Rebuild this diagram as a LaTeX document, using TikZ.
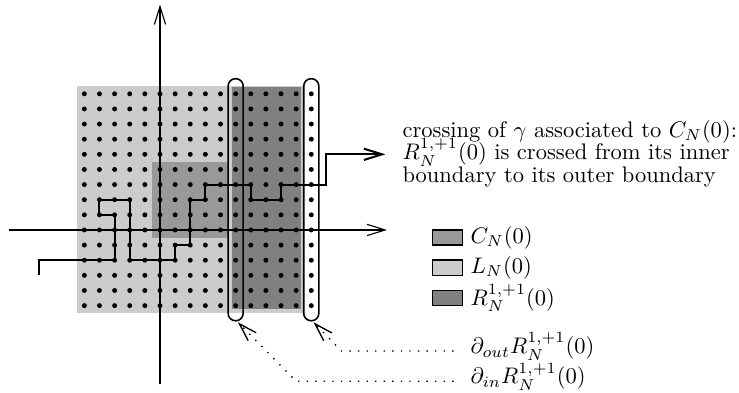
\documentclass[tikz,border=0pt]{standalone}
\usetikzlibrary{arrows.meta}
\definecolor{ringL}{gray}{0.8}
\definecolor{ringC}{gray}{0.6}
\definecolor{ringR}{gray}{0.5}
\begin{document}
\begin{tikzpicture}[x=0.236cm,y=0.236cm,
  >={Straight Barb[length=8pt,width=5pt]},
  site/.style={fill=black},
  walk/.style={line width=0.9pt,->},
  bdry/.style={line width=0.7pt,rounded corners=3.3pt},
  key/.style={draw,line width=0.7pt},
  keytext/.style={anchor=west,inner sep=0pt},
  hint/.style={line width=0.6pt,dash pattern=on 0.6pt off 3.2pt,->}]
\useasboundingbox (-10.575,-10.71) rectangle (38.27,15.2);

% BOXES
\fill[ringL] (-5.5,-5.5) rectangle (9.45,9.5);
\fill[ringC] (-0.5,-0.5) rectangle (4.5,4.5);
\fill[ringR] (4.75,-5.2) rectangle (9.35,9.45);

% SITES
\foreach \x in {-5,...,10}
  \foreach \y in {-5,...,9}
    \fill[site] (\x,\y) circle (1.1pt);

% AXES
\draw[line width=0.5pt,->] (-10,0) -- (15,0);
\draw[line width=0.5pt,->] (0,-10.2) -- (0,14.9);

% CROSSING
\draw[walk] (-8,-3) -- (-8,-2) -- (-3,-2) -- (-3,1) -- (-4,1) -- (-4,2)
  -- (-2,2) -- (-2,-2) -- (1,-2) -- (1,-1) -- (2,-1) -- (2,2) -- (3,2)
  -- (3,3) -- (6,3) -- (6,2) -- (8,2) -- (8,3) -- (11,3) -- (11,5)
  -- (14.9,5);

% BOUNDARIES
\draw[bdry] (4.5,-6) rectangle (5.5,10);
\draw[bdry] (9.5,-6) rectangle (10.5,10);
\coordinate (intip) at (5.15,-6.1);
\coordinate (outtip) at (10.15,-6.1);

% NOTES
\node[keytext,align=left] (txt) at (16,5.06)
  {crossing of $\gamma$ associated to $C_N(0)$:\\[-2pt]
   $R_N^{1,+1}(0)$ is crossed from its inner\\[-2pt]
   boundary to its outer boundary};

% LEGEND
\draw[key,fill=ringC] (18,-1) rectangle (20,0);
\draw[key,fill=ringL] (18,-3) rectangle (20,-2);
\draw[key,fill=ringR] (18,-5) rectangle (20,-4);
\node[keytext] (keyC) at (20.5,-0.5) {$C_N(0)$};
\node[keytext] (keyL) at (20.5,-2.5) {$L_N(0)$};
\node[keytext] (keyR) at (20.5,-4.5) {$R_N^{1,+1}(0)$};

\node[keytext] (dout) at (20.5,-7.7) {$\partial_{out}R_N^{1,+1}(0)$};
\node[keytext] (din) at (20.5,-9.7) {$\partial_{in}R_N^{1,+1}(0)$};
\coordinate (doutend) at (19.4,-8);
\coordinate (dinend) at (19.4,-10);
\draw[hint] (doutend) -- (12,-8) -- (outtip);
\draw[hint] (dinend) -- (9,-10) -- (intip);

\end{tikzpicture}
\end{document}
